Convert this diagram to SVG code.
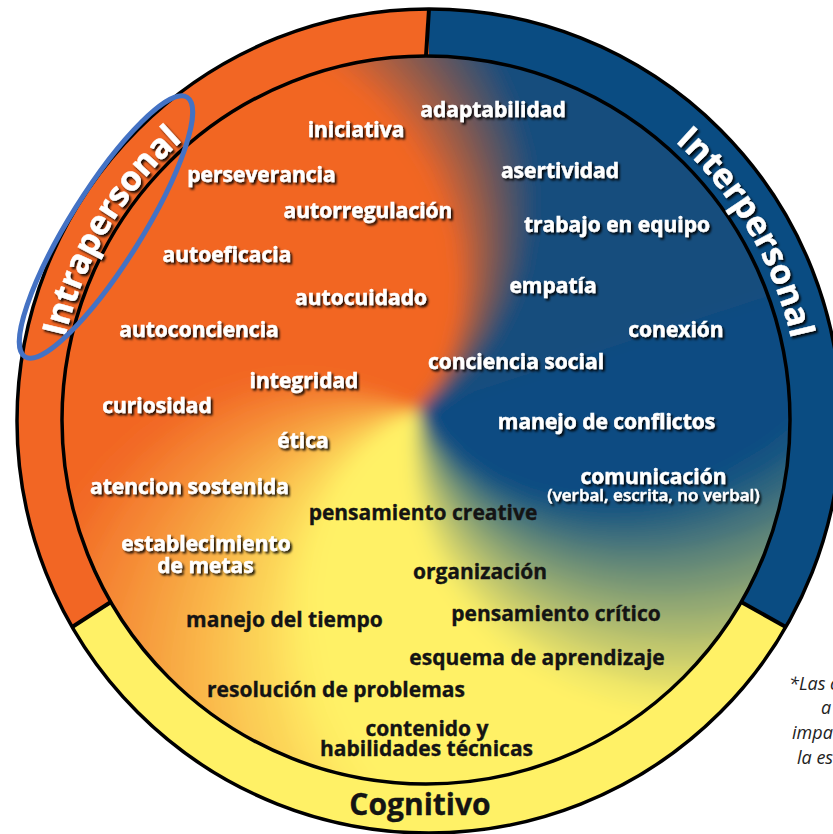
<svg xmlns="http://www.w3.org/2000/svg" width="833" height="834" viewBox="0 0 833 834">
<style>
  .lbl{font-family:'Open Sans','Noto Sans','DejaVu Sans',sans-serif;font-weight:700;font-size:21px;text-anchor:middle}
  .w{fill:#ffffff;stroke:#ffffff;stroke-width:0.45}
  .k{fill:#141414;stroke:#141414;stroke-width:0.35}
  .sub{font-size:17px;font-weight:600}
  .cat{font-family:'Open Sans','Noto Sans','DejaVu Sans',sans-serif;font-weight:700;font-size:34px;text-anchor:middle}
  .note{font-family:'Open Sans','Noto Sans','DejaVu Sans',sans-serif;font-style:italic;font-size:18px;fill:#222222}
  .edge{fill:none;stroke:#000000;stroke-width:3.5}
  .div{stroke:#000000;stroke-width:4}
</style>
<defs>
  <path id="qs" d="M0,0 L34.87,-2.99 L68.98,-11.91 L101.57,-26.65 L131.9,-46.97 L159.25,-72.57 L182.95,-103.09 L202.39,-138.06 L216.97,-176.96 L226.2,-219.2 L229.64,-264.15 L226.84,-311.08 L217.56,-359.27 L178.8,-456.2 L112.6,-548.6 L350,-606.2 L606.2,-350 L700,0 L689.4,121.6 Z"/>
  <path id="qb" d="M0,0 L34.87,-2.99 L68.98,-11.91 L101.57,-26.65 L131.9,-46.97 L159.25,-72.57 L182.95,-103.09 L202.39,-138.06 L216.97,-176.96 L226.2,-219.2 L229.64,-264.15 L226.84,-311.08 L217.56,-359.27 L178.8,-456.2 L112.6,-548.6 L350,-606.2 L606.2,-350 L700,0 L606.2,350 L350,606.2 L121.6,689.4 L-121.6,689.4 Z"/>
  <clipPath id="innerClip"><circle cx="426" cy="420" r="364"/></clipPath>
  <filter id="soft" filterUnits="userSpaceOnUse" x="30" y="20" width="800" height="810"><feGaussianBlur stdDeviation="8"/></filter>
  <filter id="sh" x="-10%" y="-30%" width="125%" height="170%"><feDropShadow dx="2" dy="2.2" stdDeviation="1.3" flood-color="#000000" flood-opacity="0.9"/></filter>
  <path id="arcIntra" d="M56,420 A372,372 0 0 1 250.5,93.1"/>
  <path id="arcInter" d="M608.3,94.6 A372,372 0 0 1 800,420"/>
</defs>

<rect width="833" height="834" fill="#ffffff"/>

<g id="ring">
  <path d="M429,421 L72.2,627 A412,412 0 0 1 429,9 Z" fill="#F26624"/>
  <path d="M429,421 L429,9 A412,412 0 0 1 785.8,627 Z" fill="#0A4C82"/>
  <path d="M429,421 L785.8,627 A412,412 0 0 1 72.2,627 Z" fill="#FFF166"/>
</g>

<g id="swirl" clip-path="url(#innerClip)">
  <g filter="url(#soft)">
    <g transform="translate(418 410)">
      <use href="#qb" transform="rotate(-25)" fill="#0A4C82"/>
      <use href="#qs" transform="rotate(55)" fill="#165481"/>
      <use href="#qs" transform="rotate(60)" fill="#2F657E"/>
      <use href="#qs" transform="rotate(65)" fill="#47757B"/>
      <use href="#qs" transform="rotate(70)" fill="#608678"/>
      <use href="#qs" transform="rotate(75)" fill="#789675"/>
      <use href="#qs" transform="rotate(80)" fill="#91A773"/>
      <use href="#qs" transform="rotate(85)" fill="#A9B770"/>
      <use href="#qs" transform="rotate(90)" fill="#C2C86D"/>
      <use href="#qs" transform="rotate(95)" fill="#DAD86A"/>
      <use href="#qs" transform="rotate(100)" fill="#F3E967"/>
      <use href="#qb" transform="rotate(105)" fill="#FFF166"/>
      <use href="#qs" transform="rotate(150)" fill="#FEEC63"/>
      <use href="#qs" transform="rotate(155)" fill="#FEE15E"/>
      <use href="#qs" transform="rotate(160)" fill="#FCD659"/>
      <use href="#qs" transform="rotate(165)" fill="#FBCC54"/>
      <use href="#qs" transform="rotate(170)" fill="#FAC14F"/>
      <use href="#qs" transform="rotate(175)" fill="#FAB64A"/>
      <use href="#qs" transform="rotate(180)" fill="#F8AC45"/>
      <use href="#qs" transform="rotate(185)" fill="#F7A140"/>
      <use href="#qs" transform="rotate(190)" fill="#F6963B"/>
      <use href="#qs" transform="rotate(195)" fill="#F58B36"/>
      <use href="#qs" transform="rotate(200)" fill="#F48131"/>
      <use href="#qs" transform="rotate(205)" fill="#F3762C"/>
      <use href="#qs" transform="rotate(210)" fill="#F26B26"/>
      <use href="#qb" transform="rotate(215)" fill="#F26624"/>
      <use href="#qs" transform="rotate(305)" fill="#E66529"/>
      <use href="#qs" transform="rotate(308)" fill="#CF6232"/>
      <use href="#qs" transform="rotate(311)" fill="#B8603C"/>
      <use href="#qs" transform="rotate(314)" fill="#A15D45"/>
      <use href="#qs" transform="rotate(317)" fill="#8A5A4E"/>
      <use href="#qs" transform="rotate(320)" fill="#725858"/>
      <use href="#qs" transform="rotate(323)" fill="#5B5561"/>
      <use href="#qs" transform="rotate(326)" fill="#44536B"/>
      <use href="#qs" transform="rotate(329)" fill="#2D5074"/>
      <use href="#qs" transform="rotate(332)" fill="#164D7D"/>
    </g>
  </g>
</g>

<g id="outlines">
  <circle class="edge" cx="429" cy="421" r="412"/>
  <circle class="edge" cx="426" cy="420" r="364"/>
  <line class="div" x1="429" y1="9" x2="426" y2="56"/>
  <line class="div" x1="785.8" y1="627" x2="741.2" y2="602"/>
  <line class="div" x1="72.2" y1="627" x2="110.8" y2="602"/>
</g>

<g id="cat-intrapersonal" filter="url(#sh)"><text class="cat w"><textPath href="#arcIntra" startOffset="50%">Intrapersonal</textPath></text></g>
<g id="cat-interpersonal" filter="url(#sh)"><text class="cat w"><textPath href="#arcInter" startOffset="50%">Interpersonal</textPath></text></g>
<g id="cat-cognitivo"><text class="cat k" x="420" y="815" style="font-size:30px">Cognitivo</text></g>

<g id="n-iniciativa" filter="url(#sh)"><text class="lbl w" x="356" y="137">iniciativa</text></g>
<g id="n-adaptabilidad" filter="url(#sh)"><text class="lbl w" x="493" y="117">adaptabilidad</text></g>
<g id="n-perseverancia" filter="url(#sh)"><text class="lbl w" x="261.5" y="182">perseverancia</text></g>
<g id="n-asertividad" filter="url(#sh)"><text class="lbl w" x="560" y="178">asertividad</text></g>
<g id="n-autorregulacion" filter="url(#sh)"><text class="lbl w" x="368" y="218">autorregulación</text></g>
<g id="n-trabajo" filter="url(#sh)"><text class="lbl w" x="617" y="232">trabajo en equipo</text></g>
<g id="n-autoeficacia" filter="url(#sh)"><text class="lbl w" x="227" y="262">autoeficacia</text></g>
<g id="n-empatia" filter="url(#sh)"><text class="lbl w" x="553" y="293">empatía</text></g>
<g id="n-autocuidado" filter="url(#sh)"><text class="lbl w" x="361" y="305">autocuidado</text></g>
<g id="n-conexion" filter="url(#sh)"><text class="lbl w" x="676" y="337">conexión</text></g>
<g id="n-autoconciencia" filter="url(#sh)"><text class="lbl w" x="199" y="337">autoconciencia</text></g>
<g id="n-conciencia-social" filter="url(#sh)"><text class="lbl w" x="516" y="369">conciencia social</text></g>
<g id="n-integridad" filter="url(#sh)"><text class="lbl w" x="304" y="388">integridad</text></g>
<g id="n-curiosidad" filter="url(#sh)"><text class="lbl w" x="157" y="413">curiosidad</text></g>
<g id="n-conflictos" filter="url(#sh)"><text class="lbl w" x="606.5" y="429">manejo de conflictos</text></g>
<g id="n-etica" filter="url(#sh)"><text class="lbl w" x="303" y="448">ética</text></g>
<g id="n-comunicacion" filter="url(#sh)"><text class="lbl w" x="653.5" y="484">comunicación</text><text class="lbl w sub" x="653.5" y="501">(verbal, escrita, no verbal)</text></g>
<g id="n-atencion" filter="url(#sh)"><text class="lbl w" x="189.5" y="494">atencion sostenida</text></g>
<g id="n-establecimiento" filter="url(#sh)"><text class="lbl w" x="206" y="551">establecimiento</text><text class="lbl w" x="205.5" y="573">de metas</text></g>

<g id="n-creative"><text class="lbl k" x="423" y="520">pensamiento creative</text></g>
<g id="n-organizacion"><text class="lbl k" x="480" y="579">organización</text></g>
<g id="n-tiempo"><text class="lbl k" x="284.5" y="627">manejo del tiempo</text></g>
<g id="n-critico"><text class="lbl k" x="556" y="621">pensamiento crítico</text></g>
<g id="n-esquema"><text class="lbl k" x="537" y="665">esquema de aprendizaje</text></g>
<g id="n-resolucion"><text class="lbl k" x="336" y="697">resolución de problemas</text></g>
<g id="n-contenido"><text class="lbl k" x="427" y="736">contenido y</text><text class="lbl k" x="426.5" y="756">habilidades técnicas</text></g>

<g id="footnote">
  <text class="note" x="789" y="690">*Las c</text>
  <text class="note" x="821" y="714">a</text>
  <text class="note" x="792" y="739">impa</text>
  <text class="note" x="797" y="764">la es</text>
</g>

<g id="highlight">
  <ellipse cx="106" cy="227" rx="153" ry="36" transform="rotate(-58 106 227)" fill="none" stroke="#4472C4" stroke-width="5"/>
</g>
</svg>
